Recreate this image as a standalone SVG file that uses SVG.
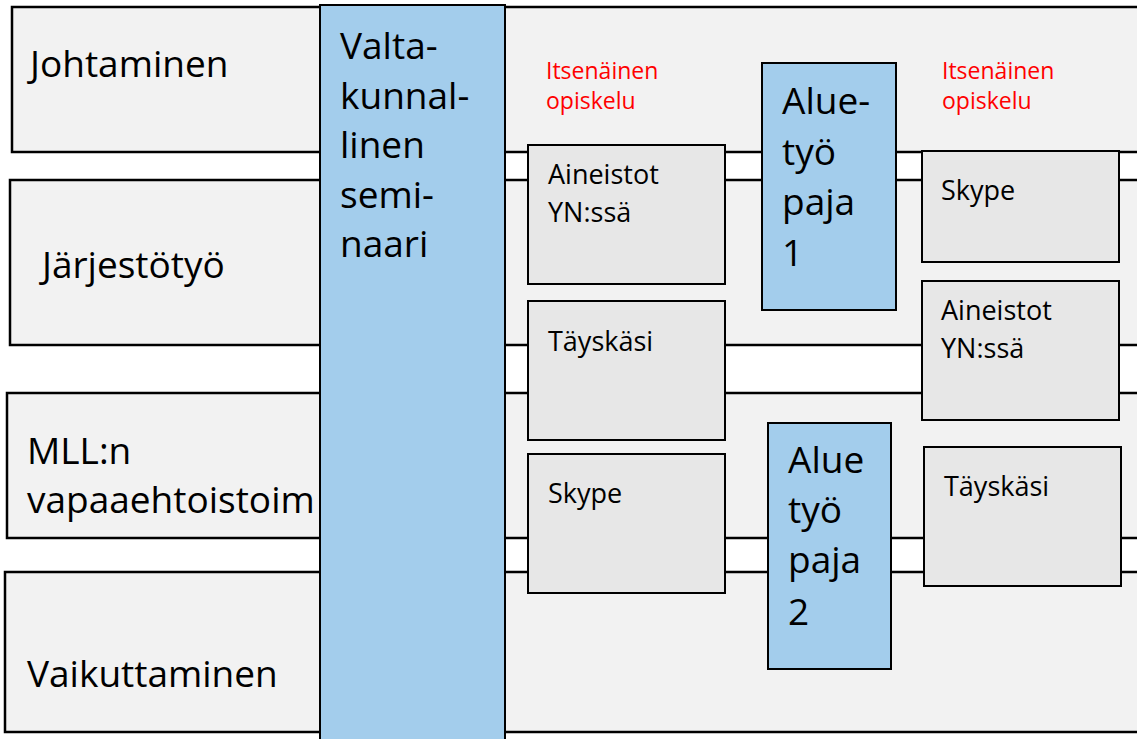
<svg xmlns="http://www.w3.org/2000/svg" width="1137" height="739" viewBox="0 0 1137 739">
<style>
.band{fill:#f2f2f2;stroke:#000;stroke-width:2.5}
.box{fill:#e7e7e7;stroke:#000;stroke-width:2}
.blue{fill:#a3cdec;stroke:#000;stroke-width:2}
.big{font-family:"Open Sans","Liberation Sans",sans-serif;font-size:37px;fill:#000}
.mid{font-family:"Open Sans","Liberation Sans",sans-serif;font-size:27px;fill:#000}
.red{font-family:"Open Sans","Liberation Sans",sans-serif;font-size:23px;fill:#ff0000}
</style>
<rect x="0" y="0" width="1137" height="739" fill="#fff"/>
<g id="row-johtaminen">
<rect class="band" x="12" y="7" width="1140" height="145"/>
<text class="big" x="30" y="77">Johtaminen</text>
</g>
<g id="row-jarjestotyo">
<rect class="band" x="10" y="180" width="1140" height="165"/>
<text class="big" x="42" y="278">Järjestötyö</text>
</g>
<g id="row-mll">
<rect class="band" x="7" y="393" width="1140" height="145"/>
<text class="big" x="27" y="464">MLL:n</text>
<text class="big" x="27" y="513">vapaaehtoistoim</text>
</g>
<g id="row-vaikuttaminen">
<rect class="band" x="5" y="572" width="1140" height="160"/>
<text class="big" x="27" y="687">Vaikuttaminen</text>
</g>
<g id="valtakunnallinen-seminaari">
<rect class="blue" x="320" y="5" width="185" height="750"/>
<text class="big" x="340" y="59">Valta-</text>
<text class="big" x="340" y="109">kunnal-</text>
<text class="big" x="340" y="158">linen</text>
<text class="big" x="340" y="208">semi-</text>
<text class="big" x="340" y="257">naari</text>
</g>
<g id="itsenainen-1">
<text class="red" x="546" y="79">Itsenäinen</text>
<text class="red" x="546" y="109">opiskelu</text>
</g>
<g id="itsenainen-2">
<text class="red" x="942" y="79">Itsenäinen</text>
<text class="red" x="942" y="109">opiskelu</text>
</g>
<g id="aineistot-1">
<rect class="box" x="528" y="145" width="197" height="139"/>
<text class="mid" x="548" y="184">Aineistot</text>
<text class="mid" x="548" y="222">YN:ssä</text>
</g>
<g id="tayskasi-1">
<rect class="box" x="528" y="301" width="197" height="139"/>
<text class="mid" x="548" y="351">Täyskäsi</text>
</g>
<g id="skype-1">
<rect class="box" x="528" y="454" width="197" height="139"/>
<text class="mid" x="548" y="503">Skype</text>
</g>
<g id="aluetyopaja-1">
<rect class="blue" x="762" y="63" width="134" height="247"/>
<text class="big" x="782" y="114">Alue-</text>
<text class="big" x="782" y="165">työ</text>
<text class="big" x="782" y="215">paja</text>
<text class="big" x="782" y="266">1</text>
</g>
<g id="aluetyopaja-2">
<rect class="blue" x="768" y="423" width="123" height="246"/>
<text class="big" x="788" y="473">Alue</text>
<text class="big" x="788" y="523">työ</text>
<text class="big" x="788" y="573">paja</text>
<text class="big" x="788" y="625">2</text>
</g>
<g id="skype-2">
<rect class="box" x="922" y="151" width="197" height="111"/>
<text class="mid" x="941" y="200">Skype</text>
</g>
<g id="aineistot-2">
<rect class="box" x="922" y="281" width="197" height="139"/>
<text class="mid" x="941" y="320">Aineistot</text>
<text class="mid" x="941" y="358">YN:ssä</text>
</g>
<g id="tayskasi-2">
<rect class="box" x="924" y="447" width="197" height="139"/>
<text class="mid" x="944" y="496">Täyskäsi</text>
</g>
<g id="connectors"></g>
</svg>
